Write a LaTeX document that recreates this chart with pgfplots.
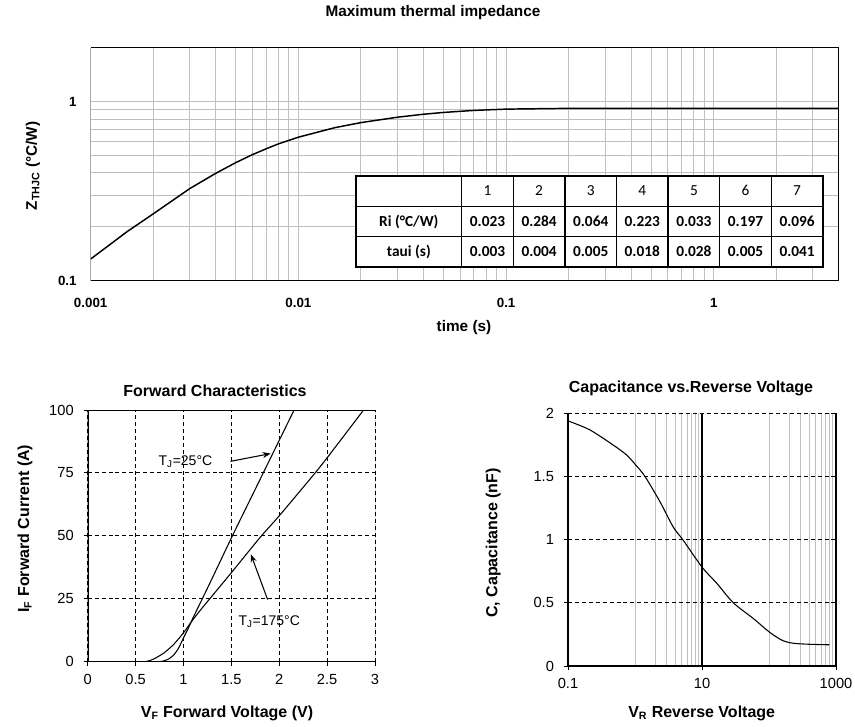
\documentclass[border=0pt]{standalone}
\usepackage{pgfplots}
\pgfplotsset{compat=1.18}
\usepackage{fontspec}
\setmainfont{Liberation Sans}
\newfontfamily\calibri{Carlito}
\usetikzlibrary{arrows.meta}
\definecolor{gridgray}{RGB}{191,191,191}
\definecolor{axgray}{RGB}{134,134,134}
\begin{document}
\begin{tikzpicture}
\path[use as bounding box] (0,0) rectangle (641.25pt,544.5pt);

% ---------------- Top: thermal impedance ----------------
\begin{axis}[
  at={(68pt,334.1pt)}, anchor=south west,
  scale only axis, width=561.2pt, height=174.4pt,
  xmode=log, ymode=log,
  xmin=0.001, xmax=4, ymin=0.1, ymax=2,
  xtick={0.001,0.01,0.1,1}, xticklabels={0.001,0.01,0.1,1},
  ytick={0.1,1}, yticklabels={0.1,1},
  minor xtick={0.002,0.003,0.004,0.005,0.006,0.007,0.008,0.009,0.02,0.03,0.04,0.05,0.06,0.07,0.08,0.09,0.2,0.3,0.4,0.5,0.6,0.7,0.8,0.9,2,3},
  minor ytick={0.2,0.3,0.4,0.5,0.6,0.7,0.8,0.9},
  grid=both,
  major grid style={gridgray,line width=0.75pt},
  minor grid style={gridgray,line width=0.75pt},
  major tick length=0pt, minor tick length=0pt,
  axis line style={draw=none},
  ticklabel style={font=\bfseries\fontsize{10}{12}\selectfont},
  xticklabel style={yshift=-10pt},
  yticklabel style={xshift=-7pt},
  /pgf/number format/assume math mode=true,
]
\addplot[black, line width=1.1pt] coordinates {
(0.001,0.132) (0.0015,0.188) (0.002,0.236) (0.003,0.327) (0.004,0.398)
(0.005,0.457) (0.006,0.506) (0.007,0.546) (0.008,0.581) (0.01,0.634)
(0.015,0.717) (0.02,0.765) (0.03,0.820) (0.04,0.852) (0.05,0.872)
(0.07,0.895) (0.1,0.910) (0.2,0.919) (0.3,0.920) (0.5,0.920)
(1,0.920) (2,0.920) (4,0.920)};
\draw[axgray, line width=0.75pt] (rel axis cs:0,0) -- (rel axis cs:0,1);
\draw[black, line width=0.75pt] (rel axis cs:0,1) -- (rel axis cs:1,1) -- (rel axis cs:1,0);
\draw[black, line width=1.2pt] (rel axis cs:0,0) -- (rel axis cs:1,0);
\end{axis}

% ---------------- Bottom left: forward characteristics ----------------
\begin{axis}[
  at={(65.8pt,48.2pt)}, anchor=south west, scale only axis,
  width=215.5pt, height=188.8pt,
  xmin=0, xmax=3, ymin=0, ymax=100,
  xtick={0,0.5,1,1.5,2,2.5,3}, ytick={0,25,50,75,100},
  grid=major,
  major grid style={black, line width=0.75pt, dash pattern=on 3pt off 2.2pt},
  tick align=outside, tick pos=left, major tick length=3pt,
  tick style={black, line width=0.75pt},
  axis line style={draw=none},
  ticklabel style={font=\fontsize{11}{13}\selectfont},
  /pgf/number format/assume math mode=true,
  xticklabel style={yshift=-3pt}, yticklabel style={xshift=-4pt},
]
\addplot[black, line width=0.8pt, smooth, tension=0.4] coordinates {
(0.75,0) (0.8,0.4) (0.85,1.2) (0.9,2.8) (0.95,5.5) (1.0,9.5) (1.05,13.3)
(1.1,17.5) (1.2,25.3) (1.3,33.2) (1.5,49.2) (1.75,68.6) (2.0,88) (2.155,100)};
\addplot[black, line width=0.8pt, smooth, tension=0.4] coordinates {
(0.6,0) (0.65,0.5) (0.7,1.3) (0.8,3.6) (0.9,7) (1.0,11.5) (1.1,16.8)
(1.2,21.6) (1.3,26.2) (1.5,35.4) (1.8,49.4) (2.0,58) (2.4,76.2) (2.65,88.5) (2.88,100)};
\node[font=\fontsize{10.5}{12}\selectfont] at (axis cs:1.02,79.4) {T\textsubscript{J}=25°C};
\draw[black, line width=0.8pt, -{Stealth[length=6pt,width=4.5pt]}] (axis cs:1.49,79.6) -- (axis cs:1.91,82.7);
\node[font=\fontsize{10.5}{12}\selectfont] at (axis cs:1.895,16) {T\textsubscript{J}=175°C};
\draw[black, line width=0.8pt, -{Stealth[length=6pt,width=4.5pt]}] (axis cs:1.878,24.7) -- (axis cs:1.703,42.7);
\draw[black, line width=0.6pt] (rel axis cs:0,1) -- (rel axis cs:1,1) -- (rel axis cs:1,0);
\draw[black, line width=1.5pt] (rel axis cs:0,1) -- (rel axis cs:0,0) -- (rel axis cs:1,0);
\end{axis}

% ---------------- Bottom right: capacitance ----------------
\begin{axis}[
  at={(426pt,45pt)}, anchor=south west, scale only axis,
  width=201pt, height=189.5pt,
  xmode=log, xmin=0.1, xmax=1000, ymin=0, ymax=2,
  xtick={0.1,10,1000}, xticklabels={0.1,10,1000},
  minor xtick={1,2,3,4,5,6,7,8,9,100,200,300,400,500,600,700,800,900},
  ytick={0,0.5,1,1.5,2},
  xmajorgrids, xminorgrids, ymajorgrids,
  major x grid style={black, line width=0.9pt},
  minor x grid style={gridgray, line width=0.75pt},
  major y grid style={black, line width=0.75pt, dash pattern=on 3pt off 2.2pt},
  tick align=outside, tick pos=left, major tick length=3pt, minor tick length=0pt,
  tick style={black, line width=0.75pt},
  axis line style={draw=none},
  ticklabel style={font=\fontsize{11}{13}\selectfont},
  /pgf/number format/assume math mode=true,
  xticklabel style={yshift=-3pt}, yticklabel style={xshift=-4pt},
]
\addplot[black, line width=0.8pt, smooth, tension=0.5] coordinates {
(0.1,1.94) (0.21,1.87) (0.47,1.75) (0.75,1.67) (1.03,1.59) (1.41,1.5)
(2.36,1.30) (3.72,1.10) (5.17,1.0) (10.1,0.78) (16.6,0.655) (29.4,0.5)
(58,0.377) (104,0.264) (162,0.2) (232,0.18) (400,0.172) (798,0.168)};
\draw[black, line width=0.75pt, dash pattern=on 3pt off 2.2pt] (rel axis cs:0,1) -- (rel axis cs:1,1);
\draw[black, line width=1.5pt] (rel axis cs:0,1) -- (rel axis cs:0,0) -- (rel axis cs:1,0) -- (rel axis cs:1,1);
\end{axis}

% ---------------- Text and table (pixel coordinates) ----------------
\begin{scope}[x=0.75pt, y=-0.75pt, shift={(0pt,544.5pt)}]
  % top chart texts
  \node[font=\bfseries\fontsize{11.5}{13}\selectfont] at (433,13) {Maximum thermal impedance};
  \node[rotate=90, font=\bfseries\fontsize{11.5}{13}\selectfont] at (33,166) {Z\textsubscript{THJC} (°C/W)};
  \node[font=\bfseries\fontsize{11.5}{13}\selectfont] at (464,328) {time (s)};
  % table
  \fill[white] (356,176) rectangle (823,266.7);
  \foreach \xx in {461.7,513.3,564.9,616.5,668.1,719.7,771.3}
    \draw[black, line width=1pt] (\xx,176) -- (\xx,266.7);
  \foreach \yy in {206.2,236.4}
    \draw[black, line width=1pt] (356,\yy) -- (823,\yy);
  \draw[black, line width=1.2pt] (356,176) rectangle (823,266.7);
  \tikzset{tc/.style={anchor=base, inner sep=0pt}}
  \node[tc, font=\calibri\bfseries\fontsize{11.5}{13}\selectfont] at (408.85,226) {Ri (°C/W)};
  \node[tc, font=\calibri\bfseries\fontsize{11.5}{13}\selectfont] at (408.85,256.2) {taui (s)};
  \foreach \xc/\n/\r/\t in {487.5/1/0.023/0.003, 539.1/2/0.284/0.004, 590.7/3/0.064/0.005,
      642.3/4/0.223/0.018, 693.9/5/0.033/0.028, 745.5/6/0.197/0.005, 797.1/7/0.096/0.041} {
    \node[tc, font=\calibri\fontsize{11.5}{13}\selectfont] at (\xc,195.8) {\n};
    \node[tc, font=\calibri\bfseries\fontsize{11.5}{13}\selectfont] at (\xc,226) {\r};
    \node[tc, font=\calibri\bfseries\fontsize{11.5}{13}\selectfont] at (\xc,256.2) {\t};
  }
  % bottom-left texts
  \node[font=\bfseries\fontsize{12}{14}\selectfont] at (215,390.7) {Forward Characteristics};
  \node[rotate=90, font=\bfseries\fontsize{12}{14}\selectfont] at (25,528.7) {I\textsubscript{F} Forward Current (A)};
  \node[font=\bfseries\fontsize{12}{14}\selectfont] at (227,713.3) {V\textsubscript{F} Forward Voltage (V)};
  % bottom-right texts
  \node[font=\bfseries\fontsize{12}{14}\selectfont] at (691,388.3) {Capacitance vs.Reverse Voltage};
  \node[rotate=90, font=\bfseries\fontsize{12}{14}\selectfont] at (493.3,543) {C, Capacitance (nF)};
  \node[font=\bfseries\fontsize{12}{14}\selectfont] at (701.7,713.3) {V\textsubscript{R} Reverse Voltage};
\end{scope}
\end{tikzpicture}
\end{document}
